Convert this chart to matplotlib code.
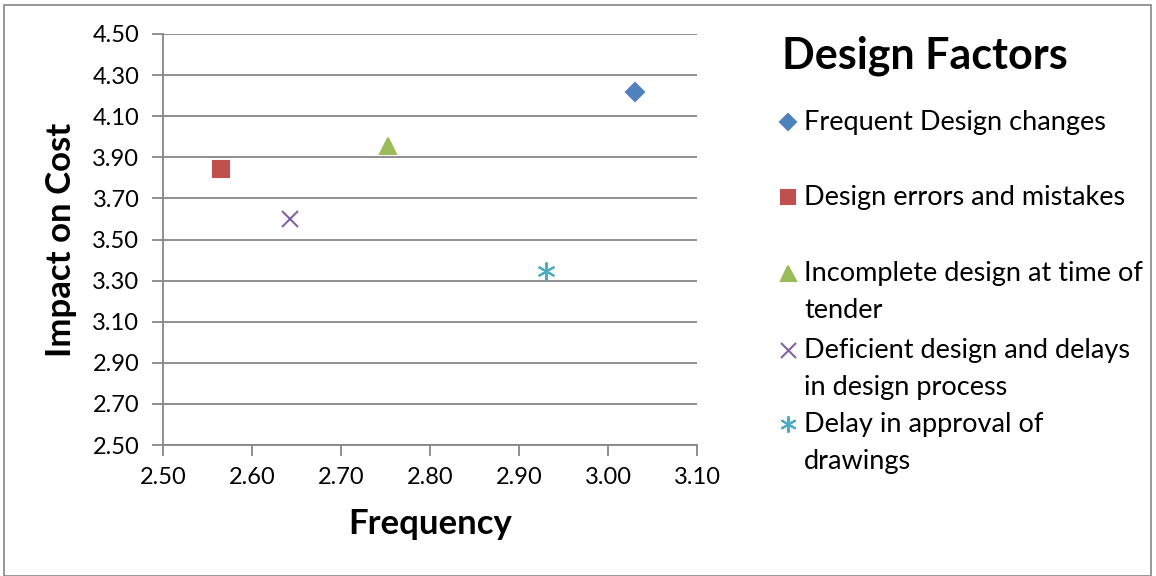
import matplotlib
matplotlib.use("Agg")
import matplotlib.pyplot as plt
from matplotlib.lines import Line2D
from matplotlib.patches import Rectangle

plt.rcParams['font.family'] = ['Lato', 'DejaVu Sans']

# Données
factors = ["Frequent Design changes", "Design errors and mistakes",
           "Incomplete design at time of\ntender",
           "Deficient design and delays\nin design process",
           "Delay in approval of\ndrawings"]
frequency = [3.03, 2.565, 2.753, 2.643, 2.93]
impact = [4.22, 3.845, 3.955, 3.60, 3.345]
colors = ["#4F81BD", "#C0504D", "#9BBB59", "#8064A2", "#4BACC6"]
markers = ["D", "s", "^", "x", (6, 2, 0)]
sizes = [9, 11, 12, 12, 13]
x_ticks = [2.50, 2.60, 2.70, 2.80, 2.90, 3.00, 3.10]
y_ticks = [2.50, 2.70, 2.90, 3.10, 3.30, 3.50, 3.70, 3.90, 4.10, 4.30, 4.50]

W, H = 1156, 576
fig = plt.figure(figsize=(W / 100, H / 100), dpi=100)
ax = fig.add_axes([163 / W, 1 - 445 / H, (697 - 163) / W, (445 - 34) / H])

for f, i, c, m, s in zip(frequency, impact, colors, markers, sizes):
    ax.plot([f], [i], linestyle="none", marker=m, color=c, markersize=s,
            markeredgewidth=1.5, zorder=3)

ax.set_xlim(2.5, 3.1)
ax.set_ylim(2.5, 4.5)
ax.set_xticks(x_ticks)
ax.set_yticks(y_ticks)
ax.set_xticklabels([f"{v:.2f}" for v in x_ticks], fontsize=17)
ax.set_yticklabels([f"{v:.2f}" for v in y_ticks], fontsize=17)
ax.grid(axis="y", color="#868686", linewidth=1.3)
ax.set_axisbelow(True)
for side in ["top", "right"]:
    ax.spines[side].set_visible(False)
for side in ["left", "bottom"]:
    ax.spines[side].set_color("#868686")
    ax.spines[side].set_linewidth(1.3)
ax.tick_params(axis="both", color="#868686", width=1.3, length=8)
ax.tick_params(axis="x", pad=8)
ax.tick_params(axis="y", pad=9)
ax.set_xlabel("Frequency", fontsize=25, fontweight="bold")
ax.set_ylabel("Impact on Cost", fontsize=25, fontweight="bold")
ax.xaxis.set_label_coords(0.5, (445 - 508) / 411)
ax.yaxis.set_label_coords((77 - 163) / 534, 0.5)

# Légende dessinée à la main
fig.text(925 / W, 1 - 56 / H, "Design Factors", fontsize=31, fontweight="bold",
         ha="center", va="center")
entry_y = [122, 197, 273, 350, 424]
for lab, c, m, s, y in zip(factors, colors, markers, sizes, entry_y):
    fig.add_artist(Line2D([788 / W], [1 - y / H], linestyle="none", marker=m,
                          color=c, markersize=s * 0.9, markeredgewidth=1.5,
                          transform=fig.transFigure))
    fig.text(804 / W, 1 - (y - 12) / H, lab, fontsize=19.5, ha="left", va="top",
             linespacing=1.62)

fig.add_artist(Rectangle((4 / W, 0), (1151 - 4) / W, 1 - 5 / H, fill=False,
                         edgecolor="#868686", linewidth=1.2,
                         transform=fig.transFigure))

fig.savefig("out.png", dpi=100)
